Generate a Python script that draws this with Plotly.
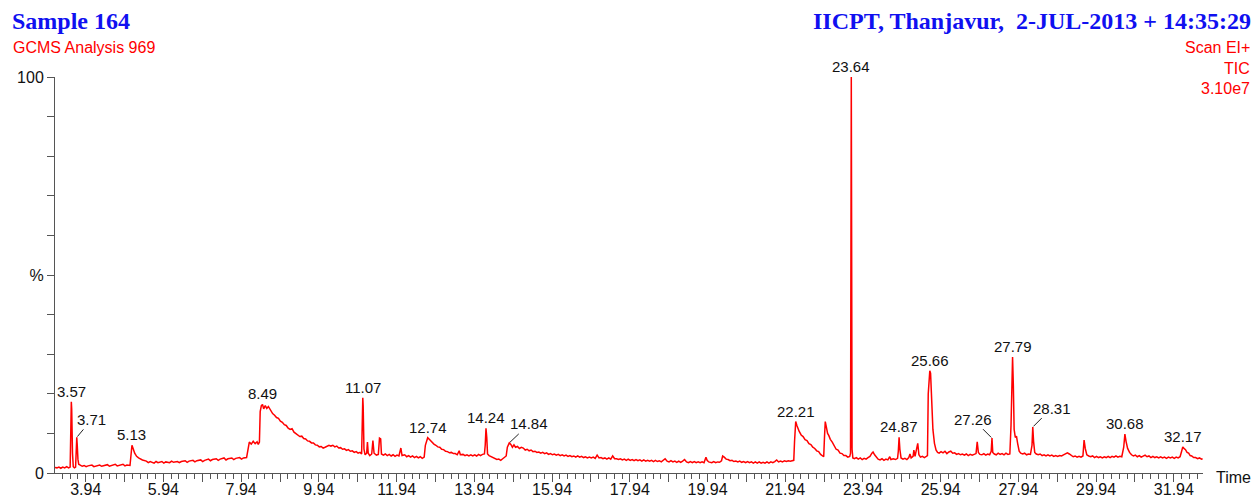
import plotly.graph_objects as go

# ---------------- data ----------------
rt = [
    3.15, 3.20, 3.25, 3.30, 3.35, 3.40, 3.45, 3.50, 3.54, 3.56,
    3.57, 3.58, 3.60, 3.62, 3.65, 3.68, 3.70, 3.71, 3.72, 3.74,
    3.76, 3.80, 3.85, 3.90, 3.95, 4.00, 4.10, 4.15, 4.20, 4.30,
    4.35, 4.40, 4.50, 4.55, 4.60, 4.70, 4.75, 4.80, 4.90, 4.95,
    5.00, 5.08, 5.11, 5.13, 5.16, 5.20, 5.25, 5.30, 5.40, 5.50,
    5.55, 5.60, 5.70, 5.75, 5.80, 5.90, 5.95, 6.00, 6.10, 6.15,
    6.20, 6.30, 6.35, 6.40, 6.50, 6.55, 6.60, 6.70, 6.75, 6.80,
    6.90, 6.95, 7.00, 7.10, 7.15, 7.20, 7.30, 7.35, 7.40, 7.50,
    7.55, 7.60, 7.70, 7.75, 7.80, 7.90, 7.95, 8.00, 8.08, 8.12,
    8.15, 8.20, 8.25, 8.30, 8.35, 8.38, 8.41, 8.43, 8.46, 8.49,
    8.52, 8.56, 8.60, 8.64, 8.70, 8.75, 8.80, 8.85, 8.90, 8.95,
    9.00, 9.05, 9.10, 9.15, 9.20, 9.25, 9.30, 9.35, 9.40, 9.45,
    9.50, 9.55, 9.60, 9.65, 9.70, 9.75, 9.80, 9.85, 9.90, 9.95,
    10.00, 10.05, 10.10, 10.15, 10.20, 10.25, 10.30, 10.35, 10.40, 10.45,
    10.50, 10.55, 10.60, 10.65, 10.70, 10.75, 10.80, 10.85, 10.90, 10.95,
    11.00, 11.04, 11.06, 11.07, 11.08, 11.10, 11.13, 11.17, 11.19, 11.21,
    11.25, 11.30, 11.33, 11.36, 11.42, 11.47, 11.50, 11.53, 11.55, 11.60,
    11.65, 11.70, 11.75, 11.80, 11.85, 11.90, 11.95, 12.00, 12.05, 12.08,
    12.15, 12.20, 12.25, 12.30, 12.35, 12.40, 12.45, 12.50, 12.55, 12.60,
    12.65, 12.68, 12.72, 12.74, 12.78, 12.82, 12.86, 12.90, 12.95, 13.00,
    13.05, 13.10, 13.15, 13.20, 13.25, 13.30, 13.35, 13.40, 13.45, 13.50,
    13.55, 13.58, 13.65, 13.70, 13.75, 13.80, 13.85, 13.90, 13.95, 14.00,
    14.05, 14.10, 14.15, 14.20, 14.22, 14.24, 14.26, 14.28, 14.32, 14.37,
    14.42, 14.47, 14.52, 14.57, 14.62, 14.67, 14.72, 14.76, 14.79, 14.84,
    14.88, 14.92, 14.96, 15.00, 15.05, 15.10, 15.15, 15.20, 15.25, 15.30,
    15.35, 15.40, 15.45, 15.50, 15.55, 15.60, 15.65, 15.70, 15.75, 15.80,
    15.85, 15.90, 15.95, 16.00, 16.05, 16.10, 16.15, 16.20, 16.25, 16.30,
    16.35, 16.40, 16.45, 16.50, 16.55, 16.60, 16.65, 16.70, 16.75, 16.80,
    16.85, 16.90, 16.95, 17.00, 17.05, 17.10, 17.15, 17.20, 17.25, 17.30,
    17.35, 17.40, 17.45, 17.50, 17.55, 17.60, 17.65, 17.70, 17.75, 17.80,
    17.85, 17.90, 17.95, 18.00, 18.05, 18.10, 18.15, 18.20, 18.25, 18.30,
    18.35, 18.40, 18.45, 18.50, 18.55, 18.60, 18.65, 18.70, 18.75, 18.80,
    18.85, 18.90, 18.95, 19.00, 19.05, 19.10, 19.15, 19.20, 19.25, 19.30,
    19.35, 19.40, 19.45, 19.50, 19.55, 19.60, 19.65, 19.70, 19.75, 19.80,
    19.85, 19.90, 19.93, 19.97, 20.05, 20.10, 20.15, 20.20, 20.25, 20.30,
    20.33, 20.37, 20.42, 20.47, 20.52, 20.57, 20.62, 20.67, 20.72, 20.77,
    20.82, 20.87, 20.92, 20.97, 21.02, 21.07, 21.12, 21.17, 21.22, 21.27,
    21.32, 21.37, 21.42, 21.47, 21.52, 21.57, 21.62, 21.67, 21.72, 21.77,
    21.82, 21.87, 21.92, 21.97, 22.02, 22.07, 22.12, 22.16, 22.18, 22.21,
    22.24, 22.27, 22.30, 22.35, 22.40, 22.45, 22.50, 22.55, 22.60, 22.65,
    22.70, 22.75, 22.80, 22.85, 22.90, 22.93, 22.95, 22.97, 23.00, 23.03,
    23.06, 23.10, 23.15, 23.20, 23.25, 23.30, 23.35, 23.40, 23.45, 23.50,
    23.55, 23.60, 23.62, 23.64, 23.66, 23.68, 23.72, 23.77, 23.82, 23.87,
    23.92, 23.97, 24.02, 24.07, 24.12, 24.17, 24.20, 24.24, 24.28, 24.33,
    24.38, 24.43, 24.48, 24.53, 24.58, 24.63, 24.66, 24.72, 24.78, 24.83,
    24.85, 24.87, 24.89, 24.92, 24.97, 25.02, 25.07, 25.12, 25.15, 25.18,
    25.23, 25.25, 25.28, 25.32, 25.35, 25.38, 25.42, 25.47, 25.52, 25.57,
    25.60, 25.62, 25.64, 25.66, 25.68, 25.71, 25.74, 25.78, 25.82, 25.86,
    25.90, 25.95, 26.00, 26.05, 26.10, 26.15, 26.20, 26.25, 26.30, 26.35,
    26.40, 26.45, 26.50, 26.55, 26.60, 26.65, 26.70, 26.75, 26.80, 26.85,
    26.88, 26.91, 26.95, 27.00, 27.05, 27.10, 27.15, 27.20, 27.24, 27.26,
    27.28, 27.32, 27.37, 27.42, 27.47, 27.52, 27.57, 27.62, 27.67, 27.72,
    27.75, 27.77, 27.79, 27.81, 27.83, 27.86, 27.89, 27.92, 27.96, 28.00,
    28.05, 28.10, 28.15, 28.20, 28.25, 28.29, 28.31, 28.33, 28.36, 28.40,
    28.45, 28.50, 28.55, 28.60, 28.65, 28.70, 28.75, 28.80, 28.85, 28.90,
    28.95, 29.00, 29.05, 29.10, 29.15, 29.20, 29.25, 29.30, 29.35, 29.40,
    29.45, 29.50, 29.55, 29.60, 29.63, 29.66, 29.70, 29.75, 29.80, 29.85,
    29.90, 29.95, 30.00, 30.05, 30.10, 30.15, 30.20, 30.25, 30.30, 30.35,
    30.40, 30.45, 30.50, 30.55, 30.60, 30.65, 30.68, 30.71, 30.75, 30.80,
    30.85, 30.90, 30.95, 31.00, 31.05, 31.10, 31.15, 31.20, 31.25, 31.30,
    31.35, 31.40, 31.45, 31.50, 31.55, 31.60, 31.65, 31.70, 31.75, 31.80,
    31.85, 31.90, 31.95, 32.00, 32.05, 32.10, 32.14, 32.17, 32.20, 32.24,
    32.28, 32.32, 32.36, 32.40, 32.45, 32.50, 32.55, 32.60, 32.65, 32.68,
]

tic = [
    1.4, 1.3, 1.5, 1.2, 1.5, 1.3, 1.6, 1.3, 1.5, 10.0,
    18.0, 16.0, 5.0, 1.6, 1.3, 1.5, 6.5, 9.0, 7.5, 3.5,
    2.2, 2.0, 1.7, 1.9, 1.6, 1.8, 2.0, 1.6, 1.8, 2.0,
    1.7, 1.9, 2.1, 1.7, 1.9, 2.2, 1.8, 2.0, 2.2, 1.8,
    2.0, 1.9, 5.5, 7.0, 6.2, 5.0, 4.2, 3.8, 3.3, 3.0,
    2.6, 2.9, 2.5, 2.9, 2.6, 2.9, 2.5, 2.8, 2.6, 3.0,
    2.7, 2.9, 2.6, 2.9, 3.1, 2.7, 3.0, 3.2, 2.8, 3.1,
    3.3, 2.9, 3.2, 3.5, 3.1, 3.4, 3.6, 3.2, 3.5, 3.8,
    3.3, 3.6, 3.8, 3.4, 3.7, 3.9, 3.5, 3.8, 3.9, 6.8,
    7.8, 7.3, 8.0, 7.4, 7.9, 7.2, 7.8, 15.5, 17.0, 17.3,
    16.2, 17.0, 16.3, 16.8, 15.6, 15.0, 14.6, 14.0, 13.8, 13.1,
    12.8, 12.2, 12.0, 11.3, 11.0, 11.2, 10.3, 10.0, 9.7, 9.2,
    9.3, 8.7, 8.6, 8.1, 8.0, 7.6, 7.6, 7.1, 7.0, 6.6,
    6.7, 6.3, 6.5, 6.7, 7.0, 6.8, 7.0, 6.6, 6.8, 6.3,
    6.4, 6.0, 6.1, 5.7, 5.9, 5.5, 5.6, 5.2, 5.4, 5.0,
    5.2, 4.8, 12.0, 19.0, 17.0, 6.0, 4.6, 5.0, 7.8, 5.0,
    4.4, 4.8, 8.2, 5.0, 4.5, 4.7, 8.8, 8.6, 4.8, 4.5,
    4.8, 4.4, 4.7, 4.3, 4.6, 4.2, 4.5, 4.3, 6.3, 4.4,
    4.6, 4.1, 4.4, 4.0, 4.3, 3.9, 4.2, 3.8, 4.1, 3.7,
    4.0, 7.0, 8.6, 8.9, 8.5, 8.0, 7.8, 7.3, 7.0, 6.6,
    6.5, 6.0, 5.9, 5.5, 5.4, 5.1, 5.2, 4.9, 4.9, 4.6,
    5.6, 4.6, 4.7, 4.4, 4.6, 4.3, 4.6, 4.3, 4.6, 4.3,
    4.7, 4.4, 4.7, 4.8, 7.0, 11.3, 9.0, 4.8, 4.4, 4.2,
    3.8, 3.6, 3.4, 3.5, 3.2, 3.6, 3.9, 4.3, 6.5, 7.6,
    7.2, 6.5, 7.1, 6.5, 6.7, 6.2, 6.5, 6.3, 5.8, 6.0,
    5.6, 5.8, 5.4, 5.5, 5.2, 5.3, 5.0, 5.2, 4.9, 5.1,
    4.7, 4.9, 4.6, 4.8, 4.5, 4.7, 4.4, 4.6, 4.3, 4.5,
    4.2, 4.4, 4.1, 4.3, 4.0, 4.3, 4.0, 4.2, 3.9, 4.1,
    3.8, 4.0, 3.8, 4.0, 3.7, 4.5, 3.8, 3.9, 3.6, 3.8,
    3.5, 3.8, 3.5, 4.3, 3.6, 3.6, 3.4, 3.6, 3.3, 3.5,
    3.2, 3.5, 3.2, 3.4, 3.1, 3.4, 3.1, 3.3, 3.0, 3.3,
    3.0, 3.2, 3.0, 3.2, 2.9, 3.2, 2.9, 3.1, 2.8, 3.1,
    3.6, 3.0, 2.8, 3.1, 2.8, 3.0, 2.7, 3.0, 2.7, 3.0,
    3.4, 2.8, 2.6, 2.9, 2.6, 2.9, 2.6, 2.8, 2.6, 2.8,
    2.6, 4.0, 3.2, 2.8, 2.6, 2.9, 2.6, 2.8, 2.7, 3.1,
    4.3, 4.0, 3.5, 3.4, 3.1, 3.2, 2.9, 3.0, 2.8, 3.0,
    2.7, 2.9, 2.6, 2.9, 2.6, 2.8, 2.5, 2.8, 2.5, 2.8,
    2.5, 2.7, 2.5, 2.8, 2.5, 2.8, 2.6, 2.9, 3.3, 2.8,
    3.0, 2.8, 3.1, 2.9, 3.1, 3.0, 3.2, 3.2, 8.0, 13.0,
    12.0, 11.0, 10.5, 9.6, 9.2, 8.4, 8.2, 7.4, 7.2, 6.5,
    6.2, 5.6, 5.4, 4.7, 4.4, 4.1, 9.0, 13.0, 11.5, 10.0,
    9.5, 8.5, 7.8, 7.0, 6.0, 5.8, 5.0, 4.9, 4.4, 4.4,
    4.0, 4.2, 5.0, 100.0, 6.0, 3.8, 3.6, 3.9, 3.5, 3.8,
    3.4, 3.7, 3.5, 3.9, 4.2, 5.0, 5.3, 4.6, 4.0, 3.5,
    3.3, 3.6, 3.2, 3.5, 3.3, 4.1, 3.4, 3.6, 3.4, 3.7,
    5.5, 9.0, 6.0, 3.8, 3.5, 3.7, 3.4, 3.9, 4.8, 3.8,
    4.2, 5.8, 4.2, 6.0, 7.5, 4.6, 4.0, 4.2, 3.9, 4.2,
    4.4, 20.0, 22.7, 25.8, 25.2, 16.0, 11.0, 7.5, 5.8, 5.2,
    5.0, 5.4, 5.1, 5.5, 4.9, 5.3, 5.5, 5.0, 5.1, 4.7,
    4.9, 4.6, 4.8, 4.5, 4.8, 4.4, 4.7, 4.5, 4.7, 4.9,
    7.9, 5.2, 4.7, 4.6, 4.9, 4.5, 4.8, 4.6, 5.5, 8.8,
    5.2, 4.8, 4.6, 5.0, 4.7, 4.9, 4.6, 5.0, 4.7, 4.8,
    12.0, 27.0, 29.3, 22.0, 11.0, 9.0, 9.3, 7.5, 5.5, 5.0,
    4.8, 5.0, 4.6, 4.8, 4.7, 7.0, 11.6, 8.0, 5.2, 4.8,
    4.6, 4.8, 4.4, 4.6, 4.3, 4.6, 4.3, 4.5, 4.2, 4.4,
    4.2, 4.4, 4.3, 4.6, 4.9, 5.1, 4.8, 4.4, 4.1, 4.3,
    4.0, 4.2, 4.0, 4.3, 8.3, 6.2, 4.6, 4.3, 4.1, 4.3,
    3.9, 4.2, 3.9, 4.1, 3.8, 4.1, 3.9, 4.2, 3.9, 4.2,
    4.0, 4.3, 4.0, 4.2, 4.1, 6.5, 9.8, 8.0, 6.2, 5.2,
    4.6, 4.3, 4.5, 4.1, 4.4, 4.0, 4.3, 4.5, 4.1, 4.3,
    3.9, 4.2, 3.9, 4.1, 3.8, 4.1, 3.8, 4.0, 3.7, 4.0,
    3.8, 4.0, 3.7, 4.0, 3.8, 4.1, 5.5, 6.6, 6.2, 5.9,
    5.2, 5.0, 4.4, 4.3, 3.9, 3.9, 3.6, 3.8, 3.5, 3.6,
]
assert len(rt) == len(tic)

peak_labels = ["3.57", "3.71", "5.13", "8.49", "11.07", "12.74", "14.24", "14.84",
               "22.21", "23.64", "24.87", "25.66", "27.26", "27.79", "28.31",
               "30.68", "32.17"]
# labels drawn with a short leader line: label -> (dx, dy) text offset in px
leader_offsets = {"3.71": (15, -18), "14.84": (20, -19),
                  "27.26": (-19, -19), "28.31": (19, -19)}

time_tick_values = [3.94 + i for i in range(29)]
time_tick_labels = ["3.94", "", "5.94", "", "7.94", "", "9.94", "", "11.94", "",
                    "13.94", "", "15.94", "", "17.94", "", "19.94", "", "21.94", "",
                    "23.94", "", "25.94", "", "27.94", "", "29.94", "", "31.94"]
pct_tick_values = [0, 10, 20, 30, 40, 50, 60, 70, 80, 90, 100]
pct_tick_labels = ["0", "", "", "", "", "%", "", "", "", "", "100"]

header_left = "Sample 164"
header_right = "IICPT, Thanjavur,\u00a0 2-JUL-2013 + 14:35:29"
sub_left = "GCMS Analysis 969"
sub_right = ["Scan EI+", "TIC", "3.10e7"]

# ---------------- figure ----------------
W, H = 1258, 503
ML, MR, MT, MB = 55, 55, 77, 30
PW, PH = W - ML - MR, H - MT - MB

def px(xp):
    return (xp - ML) / PW

def py(yp):
    return (H - MB - yp) / PH

SANS = "Liberation Sans, Arial, sans-serif"
SERIF = "Liberation Serif, Times New Roman, serif"
BLUE = "rgb(16,16,240)"
RED = "#ff0000"
AX = "#555555"

fig = go.Figure()
fig.add_trace(go.Scatter(x=rt, y=tic, mode="lines",
                         line=dict(color=RED, width=1.5),
                         hoverinfo="skip", showlegend=False))

annotations = []
for lab in peak_labels:
    t = float(lab)
    h = max(v for r, v in zip(rt, tic) if abs(r - t) <= 0.031)
    if lab in leader_offsets:
        dx, dy = leader_offsets[lab]
        annotations.append(dict(x=t, y=h, xref="x", yref="y", text=lab,
                                showarrow=True, arrowhead=0, arrowwidth=1,
                                arrowcolor="#222222", ax=dx, ay=dy, standoff=1,
                                font=dict(family=SANS, size=15, color="#111111")))
    else:
        annotations.append(dict(x=t, y=h, xref="x", yref="y", text=lab,
                                showarrow=False, yanchor="bottom", xanchor="center",
                                font=dict(family=SANS, size=15, color="#111111")))

annotations += [
    dict(x=px(10), y=py(21), xref="paper", yref="paper", text="<b>%s</b>" % header_left,
         showarrow=False, xanchor="left", yanchor="middle",
         font=dict(family=SERIF, size=24, color=BLUE)),
    dict(x=px(1253), y=py(21), xref="paper", yref="paper", text="<b>%s</b>" % header_right,
         showarrow=False, xanchor="right", yanchor="middle",
         font=dict(family=SERIF, size=24, color=BLUE)),
    dict(x=px(11), y=py(48), xref="paper", yref="paper", text=sub_left,
         showarrow=False, xanchor="left", yanchor="middle",
         font=dict(family=SANS, size=16, color=RED)),
    dict(x=px(1214), y=py(477), xref="paper", yref="paper", text="Time",
         showarrow=False, xanchor="left", yanchor="middle",
         font=dict(family=SANS, size=16, color="#111111")),
]
for i, s in enumerate(sub_right):
    annotations.append(dict(x=px(1252), y=py(48 + 20 * i), xref="paper", yref="paper",
                            text=s, showarrow=False, xanchor="right", yanchor="middle",
                            font=dict(family=SANS, size=16, color=RED)))

fig.update_layout(
    width=W, height=H,
    margin=dict(l=ML, r=MR, t=MT, b=MB, pad=0, autoexpand=False),
    paper_bgcolor="white", plot_bgcolor="white",
    showlegend=False,
    annotations=annotations,
    xaxis=dict(range=[3.15, 32.69], showgrid=False, zeroline=False, automargin=False,
               showline=True, linecolor=AX, linewidth=1,
               tickmode="array", tickvals=time_tick_values, ticktext=time_tick_labels,
               ticks="outside", ticklen=8, tickwidth=1, tickcolor=AX,
               ticklabelstandoff=-6,
               tickfont=dict(family=SANS, size=16, color="#111111"),
               minor=dict(tick0=3.94, dtick=0.2, ticks="outside", ticklen=5,
                          tickwidth=1, tickcolor=AX, showgrid=False)),
    yaxis=dict(range=[0, 100], showgrid=False, zeroline=False, automargin=False,
               showline=True, linecolor=AX, linewidth=1,
               tickmode="array", tickvals=pct_tick_values, ticktext=pct_tick_labels,
               ticks="outside", ticklen=7, tickwidth=1, tickcolor=AX,
               tickfont=dict(family=SANS, size=16, color="#111111")),
)

fig.write_html("out.html", config={"displayModeBar": False},
               post_script="document.body.style.margin='0';")
